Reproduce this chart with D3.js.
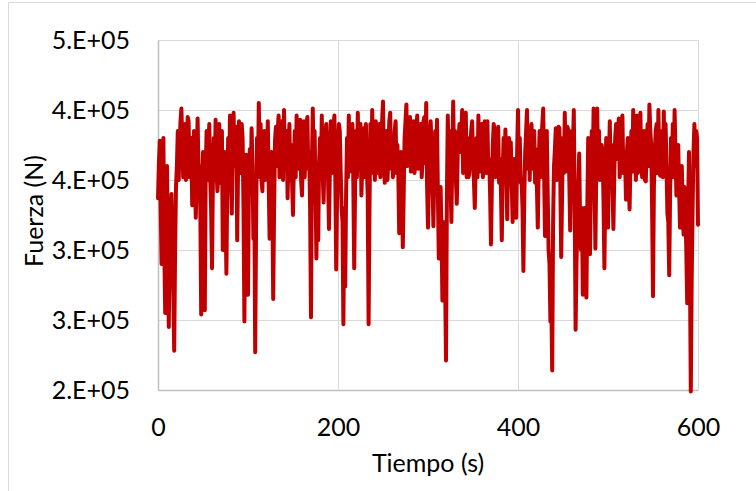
<!DOCTYPE html>
<html>
<head>
<meta charset="utf-8">
<script src="https://cdn.jsdelivr.net/npm/d3@7"></script>
<style>
  html, body { margin: 0; padding: 0; background: #fff; }
  svg { display: block; }
  text { font-family: Lato, "Open Sans", sans-serif; fill: #000; }
</style>
</head>
<body>
<svg id="chart" width="756" height="491"></svg>
<script>
// ---- data, force in kN, one sample per second ----
const sampleStep = 1; // seconds between samples
const fuerzaKN = [
337,362,378,330,290,350,380,300,255,340,360,290,245,310,330,340,300,270,228,300,
345,360,385,350,375,392,401,378,352,360,390,350,370,395,392,352,360,380,332,350,
385,348,323,355,394,358,360,330,254,345,370,320,257,355,385,350,375,390,352,330,
287,350,380,350,393,358,342,352,390,348,365,385,300,345,370,330,283,350,380,352,
396,350,326,375,398,360,370,388,307,360,392,355,365,390,380,330,249,350,368,320,
268,345,372,348,387,360,308,340,227,320,380,352,405,356,390,350,342,375,385,350,
380,352,392,348,308,355,370,340,265,330,378,388,360,385,396,352,372,392,385,350,
400,360,368,385,337,370,390,350,375,348,325,362,385,352,396,358,370,388,393,350,
339,370,392,352,380,390,395,358,370,330,252,360,401,355,385,345,294,350,307,362,
380,352,396,355,334,365,385,390,370,350,315,360,392,355,365,388,396,352,286,340,
375,390,385,355,330,320,247,330,274,340,380,352,396,356,370,385,390,350,287,345,
385,352,398,358,370,390,339,362,387,352,370,390,360,340,247,330,390,355,400,360,
375,350,392,355,365,385,390,352,370,392,406,360,348,370,385,350,370,392,398,358,
380,352,365,385,392,355,375,355,312,345,370,350,302,340,380,392,404,360,375,388,
395,356,368,390,392,355,366,385,396,358,370,388,390,352,365,392,395,362,405,345,
316,350,380,392,370,348,317,355,385,356,393,340,294,330,345,315,264,320,300,280,
221,340,396,355,385,348,320,368,406,360,385,350,333,368,380,390,370,385,400,355,
375,392,398,352,380,352,355,372,385,392,370,350,330,360,380,352,396,356,375,388,
390,352,365,392,385,355,392,356,365,340,304,348,375,390,385,352,360,380,388,348,
365,345,307,355,380,352,386,360,322,360,380,350,377,350,320,345,365,340,323,370,
400,355,380,348,350,330,285,340,370,385,400,358,385,350,382,390,358,370,385,348,
372,345,316,360,385,352,375,390,401,355,310,350,385,340,300,290,249,265,214,320,
360,372,387,350,375,388,387,350,295,340,380,355,398,356,365,388,385,350,314,355,
385,370,400,330,243,290,320,345,369,320,300,330,268,310,330,300,266,330,380,340,
297,345,385,355,401,350,301,360,401,358,385,350,363,375,370,335,287,345,380,350,
316,362,392,352,375,345,315,355,380,390,365,382,394,352,375,390,396,355,360,365,
336,370,380,350,329,365,385,356,400,358,380,350,396,355,370,388,398,358,352,372,
385,350,349,375,390,360,404,385,375,330,267,345,370,385,390,355,400,358,353,370,
385,352,399,355,390,360,326,320,282,340,380,355,390,352,400,370,339,362,375,345,
316,340,360,330,311,345,330,300,262,330,370,290,199,280,330,370,390,360,385,380,
318
];
const kN = 1000;
const xTicks = [0, 200, 400, 600];
const yTicks = [200000, 250000, 300000, 350000, 400000, 450000];
const yTickLabels = ["2.E+05", "3.E+05", "3.E+05", "4.E+05", "4.E+05", "5.E+05"];
const xTitle = "Tiempo (s)";
const yTitle = "Fuerza (N)";

const data = fuerzaKN.map((v, i) => ({ t: i * sampleStep, v: v * kN }));

// ---- layout ----
const plot = { left: 158, right: 698, top: 40, bottom: 390 };
const svg = d3.select("#chart");

// chart-area border (only left and top edges are visible in the frame)
svg.append("path")
  .attr("d", "M8.5,491 L8.5,2.5 L756,2.5")
  .attr("fill", "none").attr("stroke", "#D9D9D9").attr("stroke-width", 1);

const x = d3.scaleLinear().domain([0, 600]).range([plot.left, plot.right]);
const y = d3.scaleLinear().domain([200000, 450000]).range([plot.bottom, plot.top]);

// gridlines
const g = svg.append("g");
g.selectAll("line.hg").data(yTicks.slice(1)).join("line")
  .attr("x1", plot.left).attr("x2", plot.right)
  .attr("y1", d => Math.round(y(d)) + 0.5).attr("y2", d => Math.round(y(d)) + 0.5)
  .attr("stroke", "#D9D9D9").attr("stroke-width", 1);
g.selectAll("line.vg").data(xTicks.slice(1)).join("line")
  .attr("y1", plot.top).attr("y2", plot.bottom)
  .attr("x1", d => Math.round(x(d)) + 0.5).attr("x2", d => Math.round(x(d)) + 0.5)
  .attr("stroke", "#D9D9D9").attr("stroke-width", 1);

// axes
const yAxis = d3.axisLeft(y).tickValues(yTicks)
  .tickFormat((d, i) => yTickLabels[i]).tickSize(0).tickPadding(28);
const yg = svg.append("g").attr("transform", `translate(${plot.left},0)`).call(yAxis);
yg.select(".domain").attr("stroke", "#BFBFBF").attr("stroke-width", 1.5);
yg.selectAll("text").attr("font-size", 25).attr("font-family", "Lato").attr("fill", "#000");

const xAxis = d3.axisBottom(x).tickValues(xTicks).tickFormat(d3.format("d"))
  .tickSize(0).tickPadding(28);
const xg = svg.append("g").attr("transform", `translate(0,${plot.bottom})`).call(xAxis);
xg.select(".domain").attr("stroke", "#BFBFBF").attr("stroke-width", 1.5);
xg.selectAll("text").attr("font-size", 25).attr("font-family", "Lato").attr("fill", "#000");

// series line
const line = d3.line().x(d => x(d.t)).y(d => y(d.v));
svg.append("path").datum(data)
  .attr("d", line)
  .attr("fill", "none")
  .attr("stroke", "#C00000")
  .attr("stroke-width", 4)
  .attr("stroke-linejoin", "round")
  .attr("stroke-linecap", "round");

// axis titles
svg.append("text")
  .attr("x", (plot.left + plot.right) / 2).attr("y", 472)
  .attr("text-anchor", "middle").attr("font-size", 25)
  .text(xTitle);
svg.append("text")
  .attr("transform", `translate(43,${(plot.top + plot.bottom) / 2 - 4}) rotate(-90)`)
  .attr("text-anchor", "middle").attr("font-size", 25)
  .text(yTitle);
</script>
</body>
</html>
